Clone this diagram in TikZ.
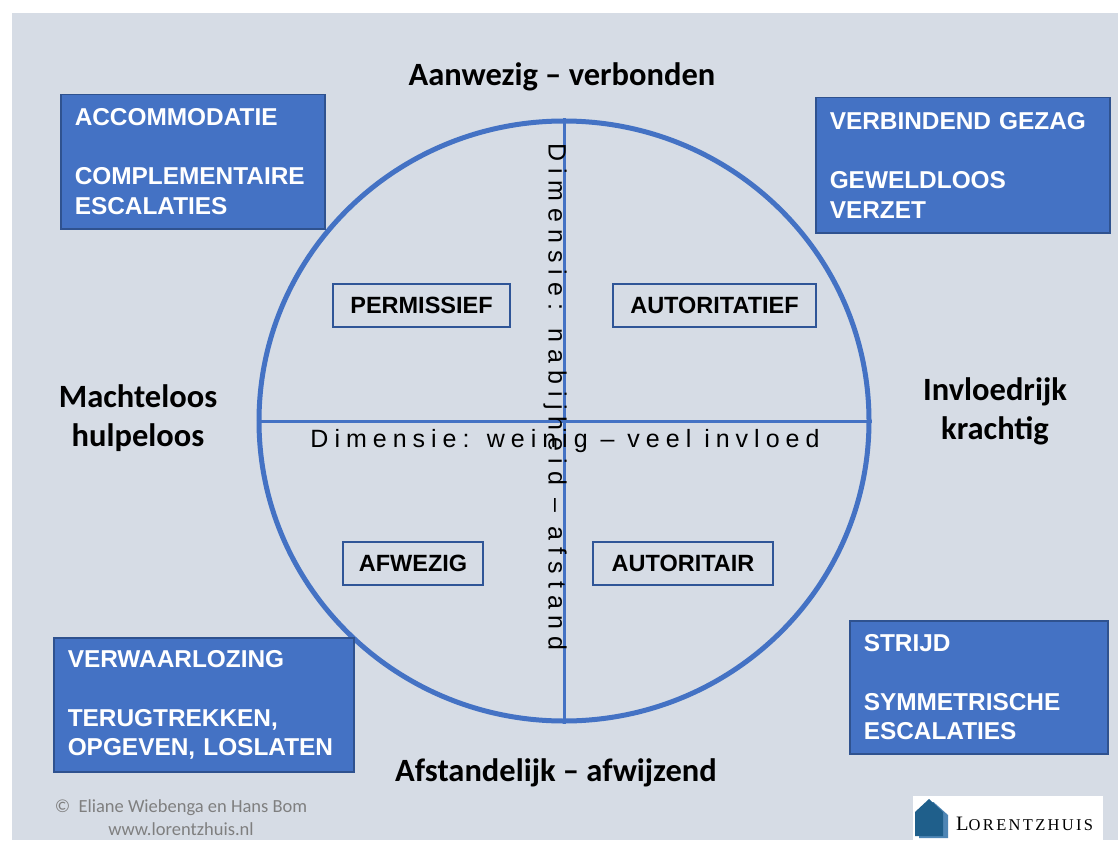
\documentclass[tikz,border=0pt]{standalone}
\usepackage{fontspec}
\usetikzlibrary{shapes.geometric}
\newfontfamily\arialf{Liberation Sans}
\newfontfamily\dimhf{Liberation Sans}[LetterSpace=24]
\newfontfamily\dimvf{Liberation Sans}[LetterSpace=28]
\newfontfamily\calf{Carlito}
\newfontfamily\logof{Liberation Serif}[LetterSpace=14]
\definecolor{bgc}{HTML}{D6DCE5}
\definecolor{boxfill}{HTML}{4472C4}
\definecolor{boxborder}{HTML}{2F528F}
\definecolor{circc}{HTML}{4472C4}
\definecolor{innerborder}{HTML}{2F5597}
\definecolor{footc}{HTML}{7F7F7F}
\definecolor{housedark}{HTML}{1F5F8B}
\definecolor{houselight}{HTML}{4F86B5}
\begin{document}
\begin{tikzpicture}[x=1pt,y=-1pt,
  bigbox/.style={draw=boxborder, line width=1.5pt, fill=boxfill, text=white,
    font=\arialf\bfseries\fontsize{24.4}{29.5}\selectfont, align=left,
    anchor=north west, inner xsep=14pt, inner ysep=0pt},
  qbox/.style={draw=innerborder, line width=2.5pt, text=black,
    font=\arialf\bfseries\fontsize{23.5}{23.5}\selectfont, inner sep=0pt,
    minimum height=43pt},
  lab/.style={font=\calf\bfseries\fontsize{32.5}{39}\selectfont, align=center, text=black},
  axisline/.style={draw=circc, line width=3pt},
  foot/.style={font=\calf\fontsize{18.5}{23}\selectfont, align=center, text=footc}
]
\useasboundingbox (0,0) rectangle (1118,840);
\fill[white] (0,0) rectangle (1118,840);
\fill[bgc] (12,13) rectangle (1118,840);

% circle and axes
\node[ellipse, draw=circc, line width=5pt, minimum width=610pt, minimum height=600pt, inner sep=0pt] (circ) at (564,421) {};
\draw[axisline] (circ.west) -- (circ.east);
\draw[axisline] (circ.north) -- (circ.south);

% dimension texts
\node[font=\dimhf\fontsize{25}{25}\selectfont, inner sep=0pt] (dimh) at (565,441) {Dimensie: weinig – veel invloed};
\node[font=\dimvf\fontsize{25}{25}\selectfont, inner sep=0pt, rotate=-90] (dimv) at (555,397) {Dimensie: nabijheid – afstand};

% quadrant boxes
\node[qbox, minimum width=177pt] (perm) at (421.5,305.5) {PERMISSIEF};
\node[qbox, minimum width=203pt] (autf) at (714.5,305.5) {AUTORITATIEF};
\node[qbox, minimum width=140pt] (afw) at (413,563.5) {AFWEZIG};
\node[qbox, minimum width=180pt] (autr) at (683,563.5) {AUTORITAIR};

% corner boxes
\node[bigbox, text width=236pt, minimum height=134pt] (acc) at (60,94)
  {ACCOMMODATIE\\[29.5pt]\mbox{COMPLEMENTAIRE}\\ESCALATIES};
\node[bigbox, text width=266pt, minimum height=135pt] (verb) at (815,97)
  {\mbox{VERBINDEND GEZAG}\\[29.5pt]GEWELDLOOS\\VERZET};
\node[bigbox, text width=272pt, minimum height=134pt] (verw) at (53,637)
  {VERWAARLOZING\\[29.5pt]\mbox{TERUGTREKKEN,}\\\mbox{OPGEVEN, LOSLATEN}};
\node[bigbox, text width=230pt, minimum height=133pt] (strijd) at (849,620)
  {STRIJD\\[29.5pt]\mbox{SYMMETRISCHE}\\ESCALATIES};

% side labels
\node[lab] (top) at (562,77) {Aanwezig – verbonden};
\node[lab] (bot) at (556,773) {Afstandelijk – afwijzend};
\node[lab] (left) at (138,418) {Machteloos\\hulpeloos};
\node[lab] (right) at (995,411) {Invloedrijk\\krachtig};

% footer
\node[foot] (copy) at (181,818) {©\ \ Eliane Wiebenga en Hans Bom\\www.lorentzhuis.nl};

% logo
\node[fill=white, anchor=north west, minimum width=190pt, minimum height=46pt, inner sep=0pt] (logo) at (913,796) {};
\fill[houselight] (919,838) -- (919,815) -- (933.5,802) -- (948,815) -- (948,838) -- cycle;
\fill[housedark] (915,836) -- (915,812) -- (929,799) -- (943,812) -- (943,836) -- cycle;
\node[font=\logof, text=black, inner sep=0pt, anchor=base west] (logotext) at (956,830)
  {\fontsize{20.5}{20.5}\selectfont L\fontsize{16.5}{16.5}\selectfont ORENTZHUIS};
\end{tikzpicture}
\end{document}
